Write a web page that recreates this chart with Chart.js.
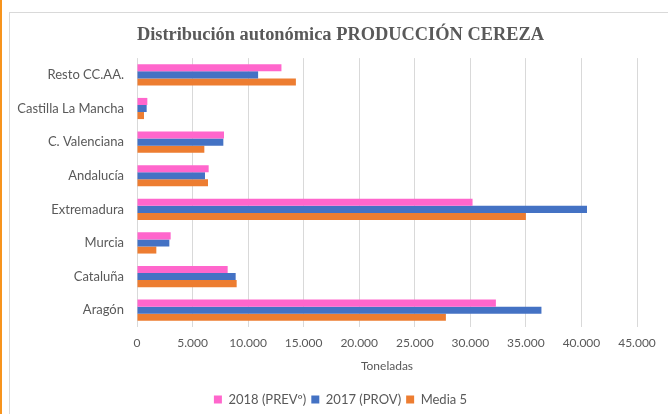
<!DOCTYPE html>
<html>
<head>
<meta charset="utf-8">
<script src="https://cdn.jsdelivr.net/npm/chart.js@4"></script>
<style>
  html, body { margin: 0; padding: 0; background: #fff; }
  body { width: 668px; height: 414px; position: relative; overflow: hidden; }
  #bar-left { position: absolute; left: 0; top: 0; width: 2px; height: 414px; background: #f7941d; }
  #frame { position: absolute; left: 9px; top: 12px; width: 680px; height: 420px; border: 1px solid #d9d9d9; }
  #wrap { position: absolute; left: 10px; top: 13px; width: 658px; height: 401px; }
</style>
</head>
<body>
<div id="bar-left"></div>
<div id="frame"></div>
<div id="wrap"><canvas id="chart-cereza"></canvas></div>
<script>
// Comunidades (de arriba a abajo)
const regiones = ['Resto CC.AA.', 'Castilla La Mancha', 'C. Valenciana', 'Andalucía', 'Extremadura', 'Murcia', 'Cataluña', 'Aragón'];
// Toneladas
const prev2018 = [13000, 930, 7830, 6450, 30200, 3030, 8160, 32300];
const prov2017 = [10900, 870, 7770, 6120, 40500, 2910, 8880, 36400];
const media5 = [14300, 630, 6060, 6390, 35000, 1740, 8970, 27800];

(function () {
  const ctx = document.getElementById('chart-cereza').getContext('2d');
  const gris = '#595959';
  const fmt = (v) => v.toLocaleString('de-DE');

  // centrar titulo y leyenda en todo el marco (como Excel), no solo a la derecha del eje
  const centrarCajas = {
    id: 'centrarCajas',
    afterLayout(chart) {
      [chart.titleBlock, chart.legend].forEach((box) => {
        if (!box) return;
        box.left = 34;
        box.right = chart.width - 31;
        box.width = box.right - box.left;
      });
    },
  };

  new Chart(ctx, {
    type: 'bar',
    data: {
      labels: regiones,
      datasets: [
        { label: '2018 (PREVº)', data: prev2018, backgroundColor: '#ff66cc' },
        { label: '2017 (PROV)', data: prov2017, backgroundColor: '#4472c4' },
        { label: 'Media 5', data: media5, backgroundColor: '#ed7d31' },
      ],
    },
    plugins: [centrarCajas],
    options: {
      indexAxis: 'y',
      responsive: true,
      maintainAspectRatio: false,
      animation: false,
      events: [],
      categoryPercentage: 0.63,
      barPercentage: 1,
      layout: { padding: { left: 0, right: 31, top: 11, bottom: -2 } },
      plugins: {
        title: {
          display: true,
          text: 'Distribución autonómica PRODUCCIÓN CEREZA',
          color: gris,
          font: { family: 'Liberation Serif', size: 18.4, weight: 'bold' },
          padding: { top: 0, bottom: 12 },
        },
        legend: {
          position: 'bottom',
          labels: {
            color: gris,
            font: { family: 'Lato', size: 13 },
            boxWidth: 8,
            boxHeight: 8,
            padding: 5,
            generateLabels: (chart) => Chart.defaults.plugins.legend.labels.generateLabels(chart).map((l) => ({ ...l, lineWidth: 0 })),
          },
        },
        tooltip: { enabled: false },
      },
      scales: {
        x: {
          min: 0,
          max: 45000,
          ticks: { stepSize: 5000, color: gris, font: { family: 'Lato', size: 12 }, padding: 9, maxRotation: 0, callback: (v) => fmt(v) },
          grid: { color: '#d9d9d9', drawTicks: false },
          border: { display: false },
          title: { display: true, text: 'Toneladas', color: gris, font: { family: 'Lato', size: 12 }, padding: { top: 9, bottom: 15 } },
          afterFit: (scale) => { scale.height = 61; },
        },
        y: {
          ticks: { color: gris, font: { family: 'Lato', size: 13 }, padding: 13 },
          grid: { display: false, drawTicks: false },
          border: { display: false },
          afterFit: (scale) => { scale.width = 127; },
        },
      },
    },
  });
})();
</script>
</body>
</html>
